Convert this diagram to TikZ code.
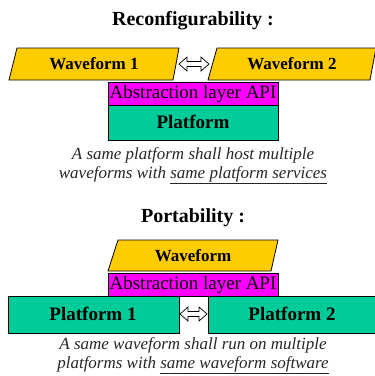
\documentclass[tikz,border=0pt]{standalone}
\usepackage{fontspec}
\setmainfont{Liberation Serif}
\definecolor{wfgold}{RGB}{255,204,0}
\definecolor{apimag}{RGB}{255,0,255}
\definecolor{pfteal}{RGB}{0,204,153}
\tikzset{
  box/.style={draw=black, line width=0.8pt},
  wf/.style={box, fill=wfgold},
  api/.style={box, fill=apimag},
  pf/.style={box, fill=pfteal},
  lbl/.style={inner sep=0pt, anchor=center},
  title/.style={lbl, font=\fontsize{20}{24}\selectfont\bfseries},
  bigbold/.style={lbl, font=\fontsize{17}{20}\selectfont\bfseries},
  pfbold/.style={lbl, font=\fontsize{19}{22}\selectfont\bfseries},
  apitxt/.style={lbl, font=\fontsize{19}{22}\selectfont},
  note/.style={lbl, font=\fontsize{17}{20}\selectfont\itshape, text=black!85},
  swapstyle/.style={draw=black, fill=white, line width=0.7pt, line join=miter}
}
% double block arrow centred at (#1,#2), half length #3
\newcommand\myswaparrow[3]{%
  \draw[swapstyle] (#1-#3,#2) -- (#1-#3+8,#2-7) -- (#1-#3+8,#2-2.5)
    -- (#1+#3-8,#2-2.5) -- (#1+#3-8,#2-7) -- (#1+#3,#2)
    -- (#1+#3-8,#2+7) -- (#1+#3-8,#2+2.5) -- (#1-#3+8,#2+2.5)
    -- (#1-#3+8,#2+7) -- cycle;}
\begin{document}
\begin{tikzpicture}[x=1pt,y=-1pt]
\useasboundingbox (0,0) rectangle (375,376);
% ---------------- Reconfigurability ----------------
\node[title] (t1) at (193,21) {Reconfigurability :};
\draw[wf] (17,48) -- (179,48) -- (173,80) -- (9,80) -- cycle;
\node[bigbold] (w1) at (94,64) {Waveform 1};
\draw[wf] (217,48) -- (376,48) -- (370,80) -- (208,80) -- cycle;
\node[bigbold] (w2) at (292,64) {Waveform 2};
\myswaparrow{194}{64}{15}
\draw[api] (108,82) rectangle (278,105);
\node[apitxt] (a1) at (193,94) {Abstraction layer API};
\draw[pf] (108,105) rectangle (278,140);
\node[pfbold] (p0) at (193,122) {Platform};
\node[note] (n1) at (193,155) {A same platform shall host multiple};
\node[note] (n2) at (193,175) {waveforms with \underline{same platform services}};
% ---------------- Portability ----------------
\node[title] (t2) at (193,218) {Portability :};
\draw[wf] (118,240) -- (278,240) -- (271,271) -- (108,271) -- cycle;
\node[bigbold] (w0) at (193,256) {Waveform};
\draw[api] (108,273) rectangle (278,296);
\node[apitxt] (a2) at (193,285) {Abstraction layer API};
\draw[pf] (8,296) rectangle (179,333);
\node[pfbold] (p1) at (93,314) {Platform 1};
\draw[pf] (208,296) rectangle (376,333);
\node[pfbold] (p2) at (292,314) {Platform 2};
\myswaparrow{193.5}{314}{13.5}
\node[note] (n3) at (193,345) {A same waveform shall run on multiple};
\node[note] (n4) at (193,365) {platforms with \underline{same waveform software}};
\end{tikzpicture}
\end{document}
